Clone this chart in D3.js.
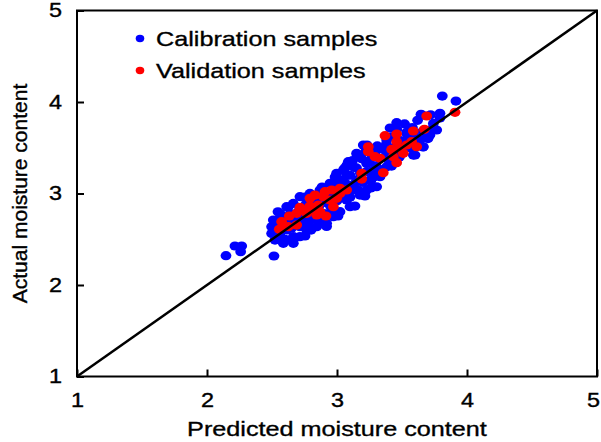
<!DOCTYPE html>
<html>
<head>
<meta charset="utf-8">
<script src="https://cdn.jsdelivr.net/npm/d3@7"></script>
<style>
  body { margin: 0; background: #fff; }
  text { font-family: "Liberation Sans", Arial, sans-serif; fill: #000; stroke: #000; stroke-width: 0.35px; }
</style>
</head>
<body>
<div id="chart"></div>
<script>
// calibration samples (predicted, actual)
var calX = [2.215,2.267,2.259,2.146,2.515,3.810,3.915,3.646,3.792,3.459,3.767,3.715,3.664,3.587,3.638,3.741,3.382,3.536,
  3.202,3.151,3.087,3.125,3.228,3.279,3.305,3.228,3.177,3.125,3.074,3.100,3.023,2.972,2.997,3.074,3.151,3.254,3.331,3.382,3.305,3.382,
  2.715,2.664,2.613,2.561,2.510,2.497,2.497,2.523,2.587,2.664,2.715,2.767,2.844,2.920,2.972,3.023,2.792,2.869,2.946,2.561,2.613,2.664,2.715,2.792,2.869,2.561,
  2.52,2.53,2.55,2.60,2.62,2.65,2.68,2.70,2.72,2.75,2.76,2.78,2.80,2.82,2.83,2.86,2.88,2.90,2.92,2.94,2.96,2.98,3.00,3.02,3.04,3.05,3.06,3.08,3.10,3.12,
  3.13,3.15,3.16,3.18,3.19,3.20,3.22,3.23,3.25,3.26,3.27,3.28,3.30,3.31,3.33,3.35,3.36,3.38,3.40,3.42,3.44,3.46,3.48,3.50,3.52,3.54,3.56,3.58,3.60,3.62,3.66,3.70,3.72,
  3.408,3.538,3.654,3.792,3.738,3.692,3.600,3.662,3.231,3.154,3.077,
  2.546,2.623,2.754,2.885,2.985,3.060,2.754,2.885,3.008,3.138,3.215,2.58,2.68,2.80,2.92,
  3.26,3.34,3.42,3.30,3.48,3.20,3.10,2.95,2.64,2.57]
var calY = [2.426,2.426,2.364,2.320,2.317,4.065,4.010,3.865,3.876,3.774,3.694,3.639,3.511,3.420,3.584,3.766,3.584,3.657,
  3.530,3.439,3.348,3.293,3.329,3.256,3.074,3.038,2.983,3.038,2.929,2.856,3.147,3.111,3.220,3.202,3.147,3.147,3.184,3.293,3.475,3.420,
  2.965,2.892,2.856,2.783,2.710,2.637,2.564,2.491,2.455,2.455,2.528,2.601,2.637,2.674,2.746,2.801,3.001,3.038,3.111,2.564,2.601,2.528,2.637,2.710,2.692,2.674,
  2.60,2.68,2.52,2.50,2.70,2.62,2.72,2.80,2.70,2.76,2.88,2.66,2.80,2.92,2.72,2.86,2.96,2.78,2.90,3.00,2.82,3.04,2.92,3.06,2.98,3.26,3.12,3.04,3.20,3.36,
  3.10,3.28,3.04,3.22,3.38,3.12,3.46,3.24,3.36,3.06,3.42,3.18,3.30,3.52,3.38,3.26,3.48,3.54,3.36,3.62,3.50,3.70,3.58,3.44,3.76,3.60,3.50,3.72,3.62,3.80,3.68,3.60,3.86,
  3.716,3.672,3.858,3.825,3.716,3.639,3.421,3.508,3.530,3.421,3.311,
  2.80,2.85,2.96,3.07,3.18,3.28,2.536,2.678,2.754,2.863,2.973,2.48,2.52,2.60,2.64,
  3.14,3.22,3.30,3.40,3.40,3.00,2.96,2.86,2.78,2.74]

// validation samples (predicted, actual)
var valX = [3.690,3.908,3.587,3.672,3.459,3.369,3.459,3.241,3.241,3.420,3.484,3.536,3.613,3.331,3.459,3.356,3.190,3.190,3.074,3.023,
  2.959,2.908,2.946,2.997,2.831,2.792,2.856,2.792,2.715,2.690,2.767,2.844,2.915,2.633,2.574,2.556,2.690,2.625,2.972,2.869,2.741,
  3.292,3.510,3.574,3.433,3.023,2.895]
var valY = [3.847,3.887,3.683,3.701,3.650,3.632,3.566,3.511,3.457,3.482,3.493,3.530,3.511,3.384,3.337,3.227,3.220,3.158,3.038,3.056,
  3.038,3.020,2.929,2.947,2.983,2.947,2.874,2.863,2.848,2.783,2.783,2.765,2.754,2.754,2.692,2.608,2.655,2.637,2.856,2.801,2.819,
  3.402,3.439,3.566,3.402,3.001,2.965]

var ticks = [1, 2, 3, 4, 5]
var legendNames = ["Calibration samples", "Validation samples"]
var colors = ["#0000ff", "#ff0000"]

var W = 601, H = 442
var margin = {top: 10.5, right: 4, bottom: 65.5, left: 77}
var width = W - margin.left - margin.right,
    height = H - margin.top - margin.bottom
var stretch = 1.2

var x = d3.scaleLinear().domain([1, 5]).range([0, width])
var y = d3.scaleLinear().domain([1, 5]).range([height, 0])

var svg = d3.select("#chart").append("svg")
  .attr("width", W)
  .attr("height", H)
  .append("g")
  .attr("transform", "translate(" + margin.left + "," + margin.top + ")")

// widen horizontal text like the original
function widen(sel) {
  sel.each(function() {
    var len = this.getComputedTextLength()
    d3.select(this).attr("textLength", len * stretch).attr("lengthAdjust", "spacingAndGlyphs")
  })
}

var cal = calX.map((d, i) => ({x: d, y: calY[i]}))
var val = valX.map((d, i) => ({x: d, y: valY[i]}))

svg.selectAll(".cal")
  .data(cal)
  .enter().append("ellipse")
  .attr("class", "cal")
  .attr("cx", d => x(d.x))
  .attr("cy", d => y(d.y))
  .attr("rx", 5.4)
  .attr("ry", 4.6)
  .attr("fill", colors[0])

svg.selectAll(".val")
  .data(val)
  .enter().append("ellipse")
  .attr("class", "val")
  .attr("cx", d => x(d.x))
  .attr("cy", d => y(d.y))
  .attr("rx", 5.4)
  .attr("ry", 4.6)
  .attr("fill", colors[1])

// 1:1 line
svg.append("line")
  .attr("x1", x(1)).attr("y1", y(1))
  .attr("x2", x(5)).attr("y2", y(5))
  .attr("stroke", "#000")
  .attr("stroke-width", 2.5)

var xAxis = d3.axisBottom(x).tickValues(ticks).tickFormat(d3.format("d"))
  .tickSizeInner(-7).tickSizeOuter(0).tickPadding(17)
var yAxis = d3.axisLeft(y).tickValues(ticks).tickFormat(d3.format("d"))
  .tickSizeInner(-7).tickSizeOuter(0).tickPadding(15)

var gx = svg.append("g")
  .attr("transform", "translate(0," + height + ")")
  .call(xAxis)
var gy = svg.append("g").call(yAxis)

;[gx, gy].forEach(g => {
  g.select(".domain").remove()
  g.selectAll(".tick line").attr("stroke", "#000").attr("stroke-width", 2)
  g.selectAll(".tick text").style("font-size", "19.5px").attr("fill", "#000").call(widen)
})
// keep the last x label inside the page
gx.selectAll(".tick text").filter(d => d === 5).attr("dx", -4)

// frame
svg.append("rect")
  .attr("width", width)
  .attr("height", height)
  .attr("fill", "none")
  .attr("stroke", "#000")
  .attr("stroke-width", 2)

svg.append("text")
  .attr("x", width / 2)
  .attr("y", height + 59)
  .attr("text-anchor", "middle")
  .style("font-size", "21px")
  .text("Predicted moisture content")
  .call(widen)

svg.append("text")
  .attr("transform", "translate(-50," + (height / 2) + ") rotate(-90)")
  .attr("text-anchor", "middle")
  .style("font-size", "21px")
  .text("Actual moisture content")

var legend = svg.selectAll(".legend")
  .data(legendNames)
  .enter().append("g")
  .attr("class", "legend")
  .attr("transform", (d, i) => "translate(63," + (28 + i * 32) + ")")

legend.append("ellipse")
  .attr("rx", 4.3)
  .attr("ry", 3.7)
  .attr("fill", (d, i) => colors[i])

legend.append("text")
  .attr("x", 16)
  .attr("dy", "0.36em")
  .style("font-size", "21px")
  .text(d => d)
  .call(widen)
</script>
</body>
</html>
